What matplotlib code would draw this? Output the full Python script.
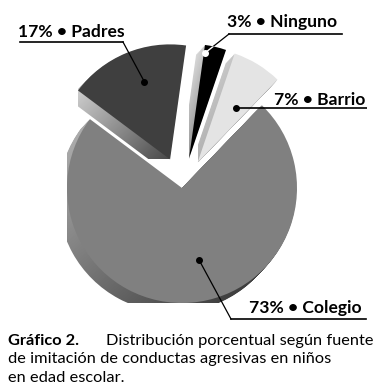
import numpy as np
import matplotlib
matplotlib.use("Agg")
import matplotlib.pyplot as plt
from matplotlib.colors import LinearSegmentedColormap

plt.rcParams['font.family'] = ['Lato', 'DejaVu Sans']

# data
names = ['Barrio', 'Ninguno', 'Padres', 'Colegio']
values = [7, 3, 17, 73]
labels = ['7% • Barrio', '3% • Ninguno', '17% • Padres', '73% • Colegio']

# layout: how far each slice is pulled out (pixels)
explode = [30, 30, 31, 0]

top_colors = ['#e4e4e4', '#000000', '#3f3f3f', '#808080']
side_light = ['#d8d8d8', '#f0f0f0', '#f2f2f2', '#b8b8b8']
side_dark = ['#8a8a8a', '#3a3a3a', '#3c3c3c', '#2a2a2a']

W, H = 391, 389
def Y(py):
    return H - py

fig = plt.figure(figsize=(W / 100, H / 100), dpi=100)
ax = fig.add_axes([0, 0, 1, 1])

cx, cy, R = 182, Y(188), 115
start = 46

# top faces
tops, _ = ax.pie(values, explode=explode, center=(cx, cy), radius=R,
                 startangle=start, colors=top_colors,
                 wedgeprops=dict(linewidth=0, zorder=10))
boxes = [w.get_path().get_extents() for w in tops]

# extruded sides, gradient light (upper-left) to dark (lower-right)
n = 64
grad = (np.arange(n)[:, None] + np.arange(n)[None, :]) / (2 * (n - 1))
cmaps = [LinearSegmentedColormap.from_list('s%d' % i, [side_light[i], side_dark[i]])
         for i in range(len(values))]
depth, dx, dy = 11, -0.8, -0.85
for k in range(depth, 0, -1):
    layer, _ = ax.pie(values, explode=explode, center=(cx + k * dx, cy + k * dy),
                      radius=R, startangle=start,
                      wedgeprops=dict(linewidth=0, facecolor='none', zorder=1))
    for i, w in enumerate(layer):
        bb = boxes[i]
        im = ax.imshow(grad, cmap=cmaps[i], extent=(bb.x0, bb.x1, bb.y0, bb.y1),
                       origin='upper', interpolation='bilinear', zorder=2 + (depth - k) * 0.01)
        im.set_clip_path(w)

ax.set_xlim(0, W)
ax.set_ylim(0, H)
ax.set_aspect('auto')
ax.axis('off')


def anchor(w, t, f):
    a = np.deg2rad(w.theta1 + t * (w.theta2 - w.theta1))
    return w.center[0] + f * w.r * np.cos(a), w.center[1] + f * w.r * np.sin(a)


# label layout: (t, f) in wedge, underline x0/x1/y, text x/baseline/width
layout = {
    'Barrio': dict(tf=(0.35, 0.58), x0=None, x1=367, uy=108, tx=365, ty=105, tw=92, ha='right'),
    'Ninguno': dict(tf=(0.95, 0.93), x0=229, x1=342, uy=34, tx=337, ty=27, tw=110, ha='right'),
    'Padres': dict(tf=(0.43, 0.71), x0=20, x1=123, uy=42, tx=18, ty=37, tw=104, ha='left'),
    'Colegio': dict(tf=(0.533, 0.64), x0=231, x1=366, uy=319, tx=362, ty=313, tw=112, ha='right'),
}

label_texts = []
for i, name in enumerate(names):
    L = layout[name]
    px, py = anchor(tops[i], *L['tf'])
    uy = Y(L['uy'])
    if name == 'Barrio':
        ax.plot([px, L['x1']], [uy, uy], color='black', lw=1.2, zorder=20,
                solid_capstyle='butt')
    elif name == 'Padres':
        ax.plot([L['x1'], px], [uy, py], color='black', lw=0.9, zorder=20)
        ax.plot([L['x0'], L['x1']], [uy, uy], color='black', lw=1.2, zorder=20)
    else:
        ax.plot([px, L['x0']], [py, uy], color='black', lw=0.9, zorder=20)
        ax.plot([L['x0'], L['x1']], [uy, uy], color='black', lw=1.2, zorder=20)
    dot_color = 'white' if top_colors[i] == '#000000' else 'black'
    if dot_color == 'white':
        seg, = ax.plot([px, L['x0']], [py, uy], color='white', lw=1.0, zorder=21)
        seg.set_clip_path(tops[i])
    ax.plot(px, py, 'o', color=dot_color, ms=4, zorder=22)
    t = ax.text(L['tx'], Y(L['ty']), labels[i], ha=L['ha'], va='baseline', fontsize=12,
                fontweight='bold', zorder=25)
    label_texts.append((t, L['tw']))

# caption
cap_title = ax.text(8, Y(345), 'Gráfico 2.', fontsize=11, fontweight='bold', va='baseline')
cap_lines = [
    (106, 345, 'Distribución porcentual según fuente', 257),
    (8, 363, 'de imitación de conductas agresivas en niños', 326),
    (8, 382, 'en edad escolar.', 120),
]
cap_texts = []
for x, y, s, tw in cap_lines:
    t = ax.text(x, Y(y), s, fontsize=11, va='baseline')
    cap_texts.append((t, tw))

# one font size per group, scaled so the texts span their measured widths
fig.canvas.draw()
r = fig.canvas.get_renderer()
def common_size(group):
    tot_w = sum(t.get_window_extent(r).width for t, _ in group)
    tot_target = sum(tw for _, tw in group)
    return group[0][0].get_fontsize() * tot_target / tot_w

lab_fs = common_size(label_texts)
for t, _ in label_texts:
    t.set_fontsize(lab_fs)
cap_fs = common_size(cap_texts)
for t, _ in cap_texts:
    t.set_fontsize(cap_fs)
cap_title.set_fontsize(cap_fs)

fig.savefig('out.png', dpi=100, facecolor='white')
